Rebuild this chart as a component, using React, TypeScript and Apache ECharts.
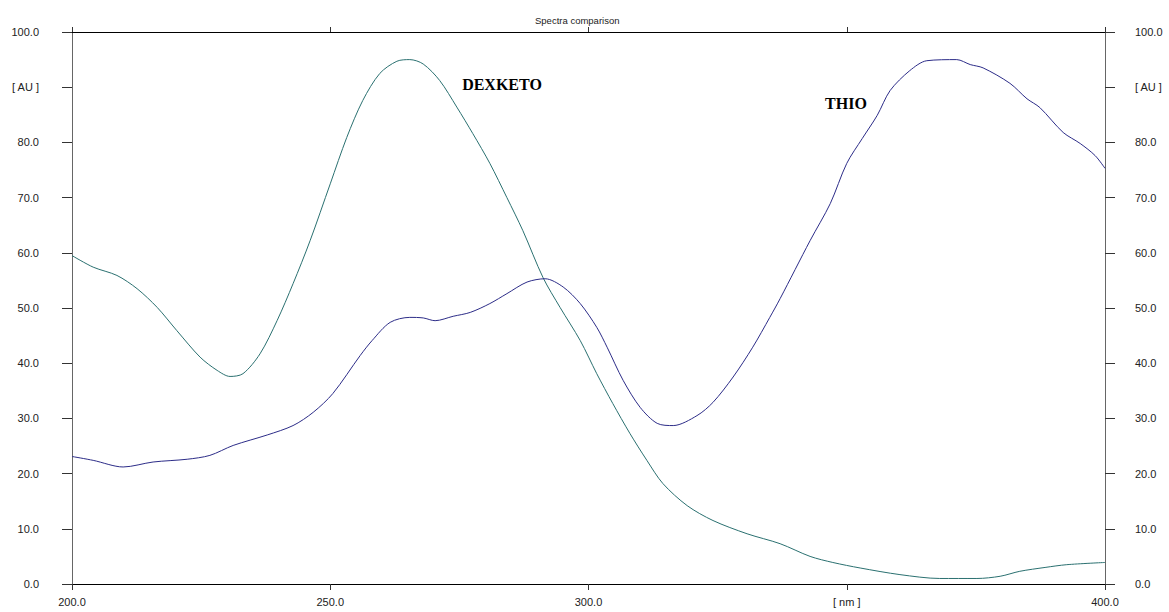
import React, { useEffect, useRef } from "react";
import * as echarts from "echarts";

const dexX = [200.0, 204.1, 208.7, 212.6, 216.5, 220.3, 224.8, 228.1, 230.6, 233.1, 236.4, 239.7, 242.8, 246.1, 250.0, 253.2, 256.3, 259.6, 262.9, 265.4, 268.0, 271.2, 274.5, 277.6, 280.9, 284.2, 287.3, 291.2, 294.5, 298.4, 301.6, 304.7, 308.0, 311.3, 314.4, 319.1, 324.1, 330.7, 337.1, 342.9, 347.3, 352.6, 360.3, 368.0, 375.2, 379.7, 383.5, 388.4, 392.6, 400.0];
const dexY = [59.5, 57.4, 55.9, 53.5, 50.1, 45.9, 41.1, 38.7, 37.6, 38.1, 41.7, 47.7, 54.4, 62.2, 72.5, 80.9, 87.6, 92.5, 94.7, 95.0, 94.2, 91.2, 86.4, 81.6, 76.2, 70.0, 64.0, 55.5, 50.1, 44.1, 38.1, 32.7, 27.3, 22.4, 18.2, 14.2, 11.5, 9.1, 7.3, 5.0, 3.9, 2.9, 1.7, 1.0, 1.0, 1.4, 2.3, 3.0, 3.5, 3.9];

const thioX = [200.0, 204.1, 209.9, 215.7, 222.3, 226.7, 231.2, 237.8, 242.8, 246.7, 250.5, 255.8, 258.1, 261.6, 265.4, 268.0, 270.3, 273.8, 277.1, 280.9, 284.2, 288.1, 291.6, 295.1, 298.4, 301.6, 303.6, 306.7, 310.0, 313.3, 316.4, 321.0, 324.1, 328.0, 331.8, 335.1, 337.1, 342.9, 346.8, 350.0, 353.0, 355.9, 358.4, 362.2, 365.5, 371.3, 373.9, 376.4, 381.6, 384.9, 387.4, 391.9, 395.2, 398.1, 400.0];
const thioY = [23.1, 22.4, 21.2, 22.1, 22.6, 23.3, 25.1, 27.0, 28.7, 31.1, 34.5, 41.4, 44.1, 47.4, 48.3, 48.2, 47.7, 48.5, 49.2, 50.8, 52.6, 54.7, 55.3, 53.8, 50.8, 46.5, 42.9, 36.9, 32.0, 29.1, 28.7, 30.5, 32.9, 37.5, 42.9, 48.3, 51.7, 62.2, 68.9, 76.2, 80.7, 84.9, 89.4, 93.0, 94.8, 95.0, 94.1, 93.5, 90.7, 87.9, 86.3, 81.8, 79.8, 77.6, 75.3];

const title = "Spectra comparison";
const xUnit = "[ nm ]";
const yUnit = "[ AU ]";
const seriesNames = ["DEXKETO", "THIO"];

const labelFont = "'Liberation Sans', Arial, sans-serif";

export default function App() {
  const ref = useRef<HTMLDivElement>(null);
  useEffect(() => {
    document.body.style.margin = "0";
    const chart = echarts.init(ref.current!, null, { renderer: "svg" });
    const xFmt = (v: number) => (v === 350 ? xUnit : v.toFixed(1));
    const yFmt = (v: number) => (v === 90 ? yUnit : v.toFixed(1));
    const axisLabelBase = { fontSize: 11, fontFamily: labelFont, color: "#222" };
    const xCommon = {
      type: "value" as const,
      min: 200,
      max: 400,
      interval: 50,
      splitLine: { show: false },
      axisLine: { show: true, onZero: false, lineStyle: { color: "#000", width: 1 } },
    };
    const yCommon = {
      type: "value" as const,
      min: 0,
      max: 100,
      interval: 10,
      splitLine: { show: false },
      axisLine: { show: true, onZero: false, lineStyle: { color: "#666", width: 1 } },
      axisTick: { show: true, length: 10, lineStyle: { color: "#333" } },
    };
    chart.setOption({
      animation: false,
      backgroundColor: "#fff",
      title: {
        text: title,
        left: 530,
        top: 10,
        textStyle: { fontSize: 9.5, fontWeight: "normal", fontFamily: labelFont, color: "#222" },
      },
      grid: { left: 72, right: 64, top: 32, bottom: 28, containLabel: false },
      xAxis: [
        {
          ...xCommon,
          position: "bottom",
          axisTick: { show: true, length: 6, lineStyle: { color: "#333" } },
          axisLabel: { ...axisLabelBase, margin: 12, formatter: xFmt, showMinLabel: true, showMaxLabel: true },
        },
        {
          ...xCommon,
          position: "top",
          axisTick: { show: true, length: 5, lineStyle: { color: "#333" } },
          axisLabel: { show: false },
        },
      ],
      yAxis: [
        {
          ...yCommon,
          position: "left",
          axisLabel: { ...axisLabelBase, margin: 33, formatter: yFmt, showMinLabel: true, showMaxLabel: true },
        },
        {
          ...yCommon,
          position: "right",
          axisLabel: { ...axisLabelBase, margin: 30, formatter: yFmt, showMinLabel: true, showMaxLabel: true },
        },
      ],
      series: [
        {
          name: seriesNames[0],
          type: "line",
          xAxisIndex: 0,
          yAxisIndex: 0,
          showSymbol: false,
          smooth: 0.3,
          lineStyle: { color: "#2a7070", width: 1 },
          data: dexX.map((x, i) => [x, dexY[i]]),
        },
        {
          name: seriesNames[1],
          type: "line",
          xAxisIndex: 0,
          yAxisIndex: 0,
          showSymbol: false,
          smooth: 0.3,
          lineStyle: { color: "#2c2c88", width: 1 },
          data: thioX.map((x, i) => [x, thioY[i]]),
        },
      ],
      graphic: [
        {
          type: "text",
          x: 502,
          y: 84,
          style: {
            text: seriesNames[0],
            font: "bold 16px 'Liberation Serif', 'Times New Roman', serif",
            fill: "#000",
            align: "center",
            verticalAlign: "middle",
          },
        },
        {
          type: "text",
          x: 846,
          y: 103,
          style: {
            text: seriesNames[1],
            font: "bold 16px 'Liberation Serif', 'Times New Roman', serif",
            fill: "#000",
            align: "center",
            verticalAlign: "middle",
          },
        },
      ],
    });
    return () => chart.dispose();
  }, []);
  return <div ref={ref} style={{ width: 1169, height: 612 }} />;
}
